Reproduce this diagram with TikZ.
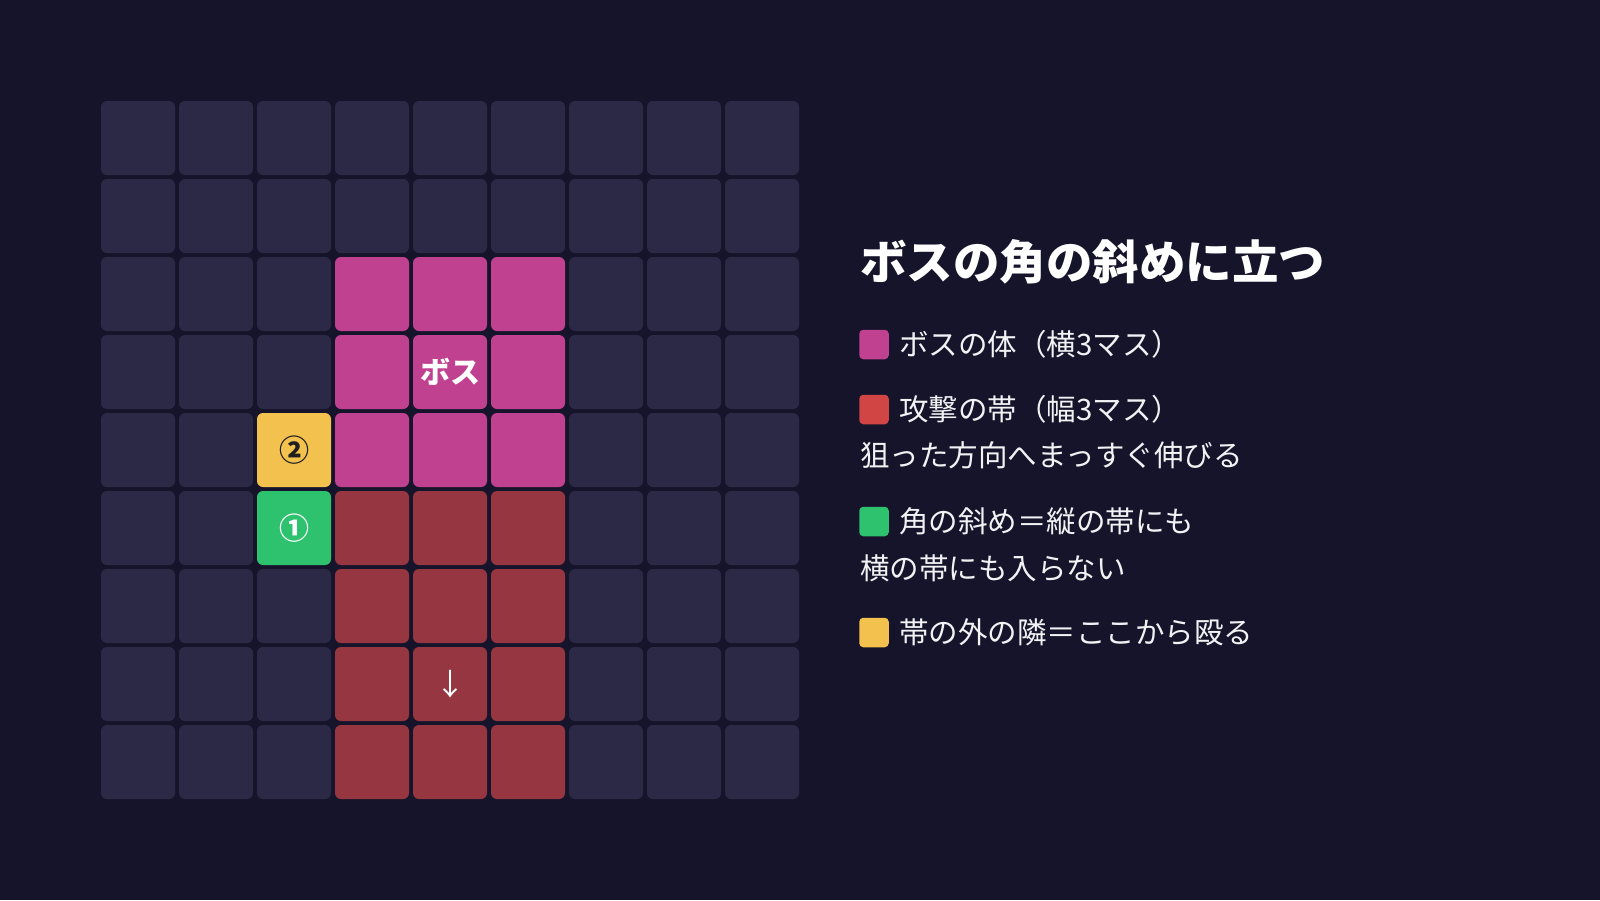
\documentclass[tikz,border=0pt]{standalone}
\usepackage{fontspec}
\newfontfamily\jp{Noto Sans CJK JP}
\definecolor{bg}{HTML}{16142A}
\definecolor{cellc}{HTML}{2C2946}
\definecolor{pinkc}{HTML}{C04190}
\definecolor{bandc}{HTML}{963641}
\definecolor{bandl}{HTML}{D14545}
\definecolor{greenc}{HTML}{2EC16E}
\definecolor{yellowc}{HTML}{F2C14E}
\definecolor{txt}{HTML}{F2F2F5}
\tikzset{
  cell/.style={draw=none, fill=cellc, rounded corners=6pt, minimum size=74pt, inner sep=0pt},
  sq/.style={draw=none, rounded corners=4pt, minimum size=29.5pt, inner sep=0pt},
  lab/.style={anchor=base west, inner sep=0pt, text=txt, font=\jp\fontsize{29.5}{34}\selectfont},
  title/.style={anchor=base west, inner sep=0pt, text=white, font=\jp\bfseries\fontsize{46.5}{54}\selectfont},
  celltxt/.style={anchor=base, inner sep=0pt, font=\jp\bfseries\fontsize{30}{34}\selectfont}
}
\begin{document}
\begin{tikzpicture}[x=1pt,y=-1pt]
\fill[bg] (0,0) rectangle (1600,900);
\useasboundingbox (0,0) rectangle (1600,900);
\foreach \r in {0,...,8}{
  \foreach \c in {0,...,8}{
    \pgfmathsetmacro{\col}{ifthenelse(and(\c>2,\c<6),ifthenelse(and(\r>1,\r<5),1,ifthenelse(\r>4,2,0)),0)}
    \ifnum\col=1 \def\cc{pinkc}\else\ifnum\col=2 \def\cc{bandc}\else\def\cc{cellc}\fi\fi
    \ifnum\c=2 \ifnum\r=4 \def\cc{yellowc}\fi \ifnum\r=5 \def\cc{greenc}\fi \fi
    \node[cell, fill=\cc] (c\r\c) at ({138+78*\c},{138+78*\r}) {};
  }
}
% cell labels
\node[celltxt, text=white] (boss) at ([yshift=-11pt]c34.center) {ボス};
\node[celltxt, text=black!88] (two) at ([yshift=-11.5pt]c42.center) {②};
\node[celltxt, text=white] (one) at ([yshift=-11.5pt]c52.center) {①};
\node[anchor=base, inner sep=0pt, text=white, font=\jp\fontsize{30}{34}\selectfont] (arr) at ([yshift=-11.5pt]c74.center) {↓};
% title
\node[title] (ttl) at (860,279.5) {ボスの角の斜めに立つ};
% legend
\node[sq, fill=pinkc] (s1) at (874,344.5) {};
\node[lab] (l1) at (899,355.5) {ボスの体（横3マス）};
\node[sq, fill=bandl] (s2) at (874,409.5) {};
\node[lab] (l2) at (899,420.5) {攻撃の帯（幅3マス）};
\node[lab] (l2b) at (860,466) {狙った方向へまっすぐ伸びる};
\node[sq, fill=greenc] (s3) at (874,521.5) {};
\node[lab] (l3) at (899,532.5) {角の斜め＝縦の帯にも};
\node[lab] (l3b) at (860,579) {横の帯にも入らない};
\node[sq, fill=yellowc] (s4) at (874,632.5) {};
\node[lab] (l4) at (899,643.5) {帯の外の隣＝ここから殴る};
\end{tikzpicture}
\end{document}
